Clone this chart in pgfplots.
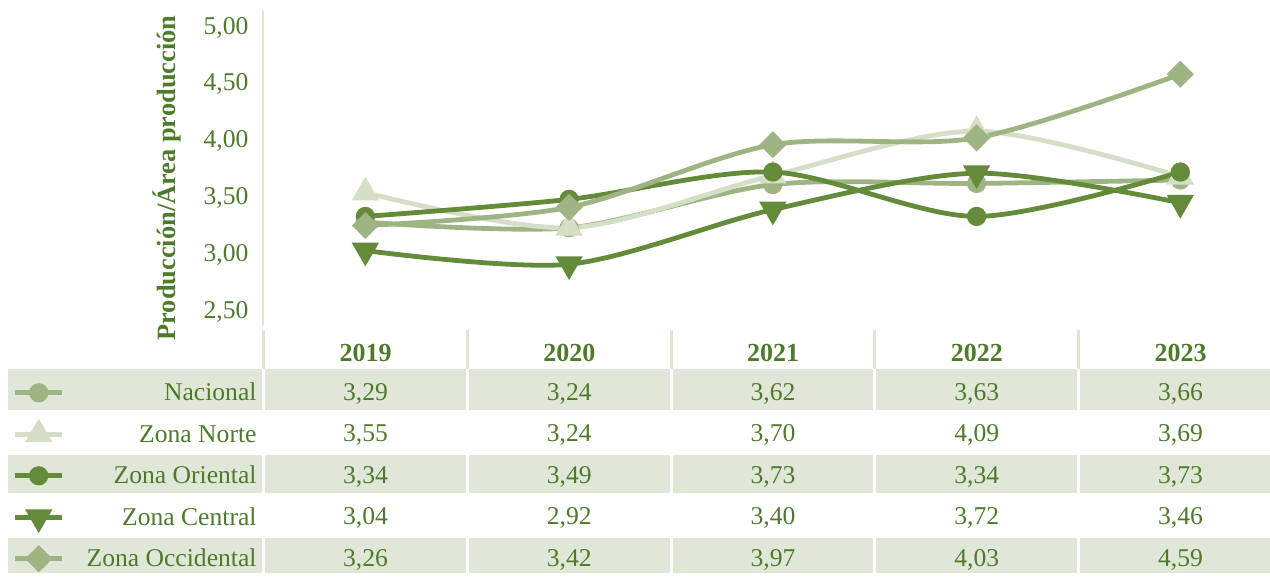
\documentclass[border=0pt]{standalone}
\usepackage{pgfplots}
\pgfplotsset{compat=1.18}
\usepackage{fontspec}
\setmainfont{Liberation Serif}
\definecolor{textcol}{HTML}{4E7B2A}
\definecolor{darkser}{HTML}{638B3A}
\definecolor{medser}{HTML}{9EB583}
\definecolor{lightser}{HTML}{D5DFC8}
\definecolor{shadecol}{HTML}{E1E7D8}
\definecolor{linecol}{HTML}{DDE5D3}
\newcommand\rowvals[6]{%
  \node[font=\fontsize{12.8}{15}\selectfont, text=textcol] at (365.5,#1) {#2};
  \node[font=\fontsize{12.8}{15}\selectfont, text=textcol] at (569.25,#1) {#3};
  \node[font=\fontsize{12.8}{15}\selectfont, text=textcol] at (773,#1) {#4};
  \node[font=\fontsize{12.8}{15}\selectfont, text=textcol] at (976.75,#1) {#5};
  \node[font=\fontsize{12.8}{15}\selectfont, text=textcol] at (1180.5,#1) {#6};
}
\begin{document}
\begin{tikzpicture}[x=0.5pt,y=-0.5pt]
\path (0,0) rectangle (1270,573);
% shaded rows
\fill[shadecol] (8,369.3) rectangle (1270,410);
\fill[shadecol] (8,455) rectangle (1270,493.3);
\fill[shadecol] (8,538.3) rectangle (1270,573);
% column separators
\foreach \xx in {263.5,467.25,671,874.75,1078.5}{
  \draw[white,line width=1.5pt] (\xx,369) -- (\xx,573);
  \draw[linecol,line width=1.5pt] (\xx,330) -- (\xx,369);
}
% header years
\foreach \lab [count=\i from 0] in {2019,2020,2021,2022,2023}{
  \node[font=\fontsize{13}{15}\bfseries, text=textcol] at (365.5+203.75*\i,352.5) {\lab};
}
% table values
\rowvals{393.5}{3,29}{3,24}{3,62}{3,63}{3,66}
\rowvals{435}{3,55}{3,24}{3,70}{4,09}{3,69}
\rowvals{476.5}{3,34}{3,49}{3,73}{3,34}{3,73}
\rowvals{518}{3,04}{2,92}{3,40}{3,72}{3,46}
\rowvals{559.5}{3,26}{3,42}{3,97}{4,03}{4,59}
% y label
\node[rotate=90, font=\fontsize{13.2}{15}\bfseries, text=textcol] at (167,178) {Producción/Área producción};
\coordinate (A) at (263.5,326);
\begin{axis}[
  at={(A)}, anchor=south west,
  scale only axis, width=503.25pt, height=158pt,
  xmin=-0.5, xmax=4.44, ymin=2.377, ymax=5.154,
  hide x axis,
  axis y line*=left,
  y axis line style={draw=linecol, line width=1pt},
  major tick length=0pt,
  ytick={2.5,3,3.5,4,4.5,5},
  /pgf/number format/fixed,
  /pgf/number format/fixed zerofill,
  /pgf/number format/precision=2,
  /pgf/number format/use comma,
  /pgf/number format/assume math mode=true,
  yticklabel style={font=\fontsize{12.8}{15}\selectfont, text=textcol, xshift=-4pt},
  clip=false,
  every axis plot/.append style={line width=2.4pt, smooth},
  legend cell align=right,
  legend image code/.code={
    \draw[mark repeat=2, mark phase=2, sharp plot] plot coordinates {(0pt,0pt)(11.75pt,0pt)(23.5pt,0pt)};
  },
  legend style={at={(axis description cs:-0.00695,-0.474)}, anchor=east, draw=none, fill=none,
    inner sep=0pt, outer sep=0pt, row sep=4.75pt, column sep=11pt,
    font=\fontsize{12.8}{15}\selectfont, text=textcol,
    nodes={inner sep=0pt, text height=12pt, text depth=4pt}},
]
\addplot[color=medser, mark=*, mark size=3.6pt] coordinates {(0,3.29)(1,3.24)(2,3.62)(3,3.63)(4,3.66)};
\addlegendentry{Nacional}
\addplot[color=lightser, mark=triangle*, mark size=5.5pt] coordinates {(0,3.55)(1,3.24)(2,3.70)(3,4.09)(4,3.69)};
\addlegendentry{Zona Norte}
\addplot[color=darkser, mark=*, mark size=3.6pt] coordinates {(0,3.34)(1,3.49)(2,3.73)(3,3.34)(4,3.73)};
\addlegendentry{Zona Oriental}
\addplot[color=darkser, mark=triangle*, mark size=5.5pt, mark options={rotate=180}] coordinates {(0,3.04)(1,2.92)(2,3.40)(3,3.72)(4,3.46)};
\addlegendentry{Zona Central}
\addplot[color=medser, mark=square*, mark size=3.6pt, mark options={rotate=45}] coordinates {(0,3.26)(1,3.42)(2,3.97)(3,4.03)(4,4.59)};
\addlegendentry{Zona Occidental}
\end{axis}
\end{tikzpicture}
\end{document}
